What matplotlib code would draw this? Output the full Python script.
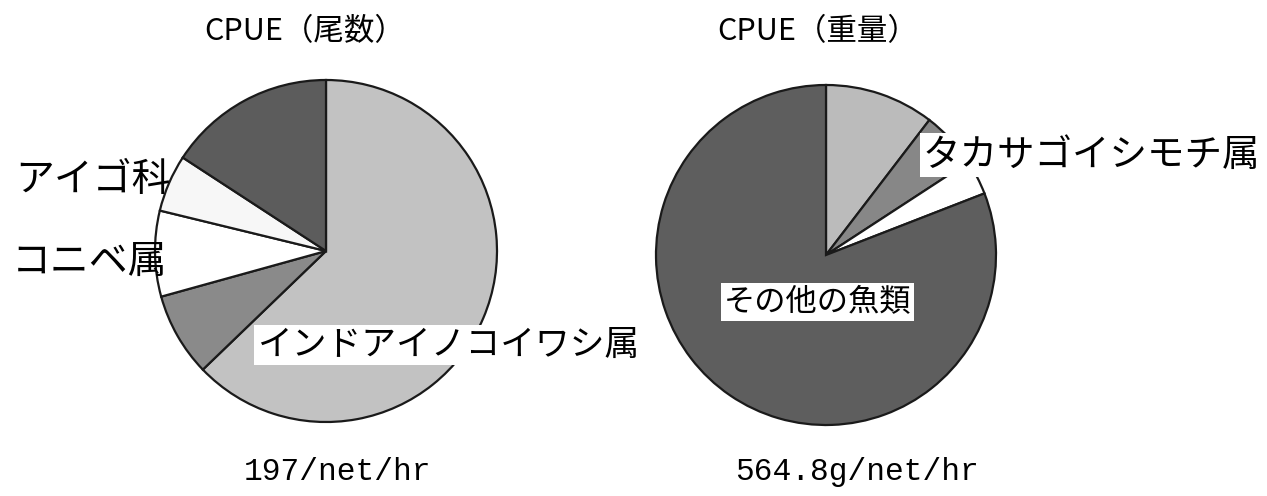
import numpy as np
import matplotlib.pyplot as plt

plt.rcParams['font.family'] = ['Noto Sans CJK JP', 'DejaVu Sans']

# 左: CPUE(尾数)  右: CPUE(重量)  -- 12時から時計回り
cat_n = ['インドアイノコイワシ属', 'その他1', 'コニベ属', 'アイゴ科', 'その他2']
val_n = [62.8, 7.9, 8.1, 5.4, 15.8]
col_n = ['#c2c2c2', '#8a8a8a', '#ffffff', '#f7f7f7', '#5c5c5c']

cat_w = ['その他A', 'タカサゴイシモチ属', 'その他B', 'その他の魚類']
val_w = [10.4, 5.4, 3.3, 80.9]
col_w = ['#bbbbbb', '#878787', '#ffffff', '#5e5e5e']

titles = ['CPUE（尾数）', 'CPUE（重量）']
totals = ['197/net/hr', '564.8g/net/hr']

W, H = 1267, 496
fig = plt.figure(figsize=(W / 100, H / 100), dpi=100)
ax = fig.add_axes([0, 0, 1, 1])

def Y(y):  # pixel row -> data y
    return H - y

wp = dict(edgecolor='#1a1a1a', linewidth=1.6)
ax.pie(val_n, colors=col_n, startangle=90, counterclock=False,
       center=(326, Y(251)), radius=171, wedgeprops=wp, frame=True)
ax.pie(val_w, colors=col_w, startangle=90, counterclock=False,
       center=(826, Y(255)), radius=170, wedgeprops=wp, frame=True)
ax.set_xlim(0, W)
ax.set_ylim(0, H)
ax.axis('off')

box = dict(facecolor='white', edgecolor='none', pad=2)
ax.text(15, Y(180), 'アイゴ科', fontsize=28, ha='left', va='center')
ax.text(12, Y(262), 'コニベ属', fontsize=28, ha='left', va='center')
ax.text(257, Y(345), cat_n[0], fontsize=25, ha='left', va='center', bbox=box)
ax.text(923, Y(155), cat_w[1], fontsize=27, ha='left', va='center', bbox=box)
ax.text(724, Y(302), cat_w[3], fontsize=22.5, ha='left', va='center', bbox=box)

ax.text(305, Y(32), titles[0], fontsize=22, ha='center', va='center')
ax.text(818, Y(32), titles[1], fontsize=22, ha='center', va='center')

ax.text(337, Y(472), totals[0], fontsize=22.5, ha='center', va='center',
        family=['Liberation Mono', 'DejaVu Sans Mono'])
ax.text(857, Y(472), totals[1], fontsize=22.5, ha='center', va='center',
        family=['Liberation Mono', 'DejaVu Sans Mono'])

fig.savefig('out.png', dpi=100, facecolor='white')
